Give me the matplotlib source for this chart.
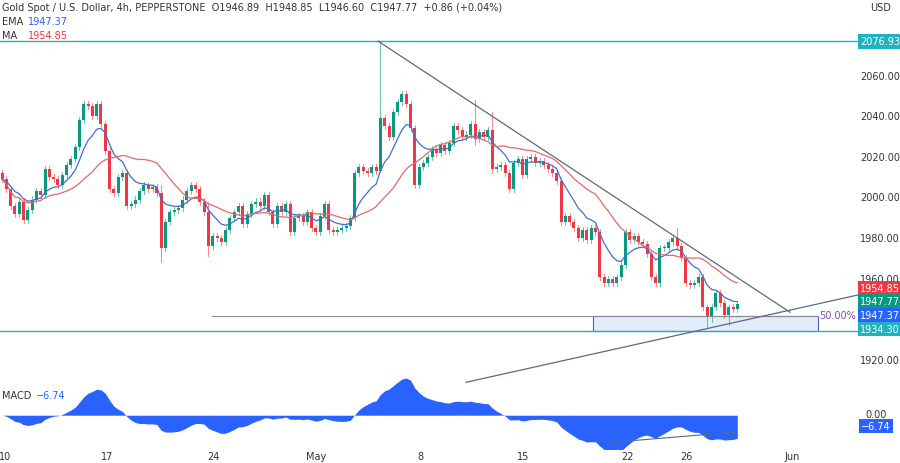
import matplotlib
matplotlib.use("Agg")
import matplotlib.pyplot as plt
import numpy as np
import pandas as pd
from matplotlib.patches import Rectangle

# 4h closes, Gold spot
closes = [
    2009, 2004, 1996, 1992, 1998, 1989, 1994, 1999, 2003, 2001,
    2014, 2010, 2009, 2006, 2011, 2016, 2019, 2025, 2038, 2046,
    2045, 2040, 2046, 2036, 2023, 2004, 2002, 2010, 2012, 1996,
    1997, 1999, 2003, 2006, 2004, 2005, 2002, 1975, 1988, 1993,
    1994, 1995, 1999, 2003, 2006, 2004, 1998, 1993, 1976, 1981,
    1980, 1978, 1984, 1990, 1993, 1996, 1987, 1992, 1997, 1998,
    1996, 2001, 1993, 1987, 1996, 1993, 1997, 1983, 1990, 1991,
    1988, 1993, 1985, 1983, 1991, 1997, 1984, 1983, 1984, 1985,
    1986, 1990, 2012, 2015, 2013, 2012, 2015, 2013, 2039, 2035,
    2030, 2042, 2047, 2051, 2046, 2034, 2006, 2015, 2017, 2020,
    2024, 2022, 2026, 2023, 2027, 2035, 2033, 2030, 2031, 2036,
    2029, 2032, 2030, 2033, 2014, 2015, 2016, 2012, 2004, 2017,
    2019, 2011, 2019, 2020, 2017, 2018, 2016, 2014, 2012, 2008,
    1988, 1991, 1988, 1985, 1980, 1984, 1979, 1985, 1983, 1961,
    1958, 1960, 1958, 1961, 1967, 1983, 1979, 1981, 1978, 1977,
    1972, 1961, 1958, 1975, 1975, 1978, 1980, 1976, 1970, 1958,
    1957, 1958, 1961, 1946, 1940, 1946, 1953, 1948, 1942, 1946,
    1945, 1947.77,
]
first_open = 2012
# notable wick extremes: candle index -> (high, low)
spikes = {88: (2077, 2033), 110: (2048, 2026), 114: (2042, 2012),
          37: (2006, 1968), 48: (1998, 1971), 157: (1985, 1974),
          164: (1947, 1936), 169: (1947, 1937)}
date_ticks = ["10", "17", "24", "May", "8", "15", "22", "26", "Jun"]
date_px = [5, 107, 213, 316, 420, 523, 627, 686, 792]
price_ticks = [2060, 2040, 2020, 2000, 1980, 1960, 1920]

GREEN = "#089981"
RED = "#f23645"
TEAL = "#22b2bf"

s = pd.Series(closes, dtype=float)
ema = s.ewm(span=9, adjust=False).mean()
ma = s.rolling(20, min_periods=1).mean()
macd = s.ewm(span=12, adjust=False).mean() - s.ewm(span=26, adjust=False).mean()

step = 4.3
xs = 2 + np.arange(len(closes)) * step
opens = [first_open] + closes[:-1]

W, H = 900, 464
fig = plt.figure(figsize=(9, 4.64), dpi=100)
PR = 858 / W
ax = fig.add_axes([0, (H - 372) / H, PR, 372 / H])
mx = fig.add_axes([0, (H - 450) / H, PR, 78 / H])


def py(v):  # price -> pixel row
    return 36 + (2080 - v) * 2.031


ax.set_xlim(0, 858)
ax.set_ylim(2080 - 336 / 2.031, 2080 + 36 / 2.031)
for a in (ax, mx):
    a.axis("off")

for i, (x, o, c) in enumerate(zip(xs, opens, closes)):
    col = GREEN if c >= o else RED
    hi, lo = spikes.get(i, (max(o, c) + 1.5, min(o, c) - 1.5))
    ax.plot([x, x], [lo, hi], color=col, lw=0.6, alpha=0.7)
    ax.add_patch(Rectangle((x - 1.5, min(o, c)), 3, max(abs(c - o), 0.4),
                           facecolor=col, edgecolor="none"))
ax.plot(xs, ema, color="#3f6fd0", lw=0.9)
ax.plot(xs, ma, color="#e06a6a", lw=0.9)

ax.axhline(2076.93, color=TEAL, lw=1.0)
ax.axhline(1934.30, color=TEAL, lw=1.0)
ax.plot([212, 818], [1941.5, 1941.5], color="#8a8a99", lw=0.8)
ax.add_patch(Rectangle((593, 1934.3), 225, 7.2, facecolor="#e3ecfb",
                       edgecolor="#4a5fc0", lw=0.8))
ax.text(819, 1942, "50.00%", color="#7b4fa8", fontsize=7, va="center")
ax.plot([378, 790], [2077, 1943.5], color="#5a6a80", lw=0.9)
ax.plot([466, 858], [1909, 1952], color="#5a6a80", lw=0.9, clip_on=False)

# MACD panel
mx.set_xlim(0, 858)
mx.set_ylim(-13, 17)
mx.fill_between(xs, 0, macd, color="#2962ff", lw=0)
mx.plot([610, 735], [-10.5, -6.5], color="#5a6a80", lw=0.8)

# header texts
fig.text(2 / W, 1 - 8 / H, "Gold Spot / U.S. Dollar, 4h, PEPPERSTONE  O1946.89  H1948.85  L1946.60  C1947.77  +0.86 (+0.04%)",
         fontsize=7, va="center", color="#333")
fig.text(2 / W, 1 - 22 / H, "EMA", fontsize=7, va="center", color="#333")
fig.text(28 / W, 1 - 22 / H, "1947.37", fontsize=7, va="center", color="#2962ff")
fig.text(2 / W, 1 - 36 / H, "MA", fontsize=7, va="center", color="#333")
fig.text(28 / W, 1 - 36 / H, "1954.85", fontsize=7, va="center", color=RED)
fig.text(870 / W, 1 - 8 / H, "USD", fontsize=7, va="center", color="#333")
fig.text(2 / W, 1 - 396 / H, "MACD", fontsize=7, va="center", color="#333")
fig.text(36 / W, 1 - 396 / H, "\u22126.74", fontsize=7, va="center", color="#2962ff")

for v in price_ticks:
    fig.text(880 / W, 1 - py(v) / H, f"{v:.2f}", fontsize=7, ha="center", va="center", color="#333")
boxes = [(2076.93, TEAL), (1954.85, RED), (1947.77, GREEN), (1947.37, "#2962ff"), (1934.30, TEAL)]
rows = [py(2076.93), py(1954.85) - 1, 302, 316, 330]
for (v, col), r in zip(boxes, rows):
    fig.text(880 / W, 1 - r / H, f"{v:.2f}", fontsize=7, ha="center", va="center", color="white",
             bbox=dict(boxstyle="square,pad=0.25", facecolor=col, edgecolor="none"))
fig.text(876 / W, 1 - 415 / H, "0.00", fontsize=7, ha="center", va="center", color="#333")
fig.text(876 / W, 1 - 427 / H, "\u22126.74", fontsize=7, ha="center", va="center", color="white",
         bbox=dict(boxstyle="square,pad=0.25", facecolor="#2962ff", edgecolor="none"))

for lab, px in zip(date_ticks, date_px):
    fig.text(px / W, 1 - 457 / H, lab, fontsize=7, ha="center", va="center", color="#333")

fig.savefig("out.png", dpi=100, facecolor="white")
